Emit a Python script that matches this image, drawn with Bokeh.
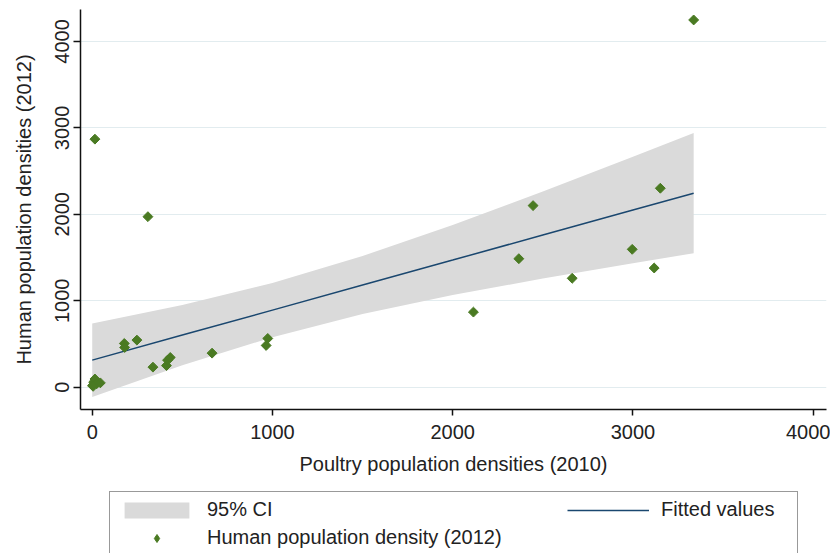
import numpy as np
from bokeh.plotting import figure
from bokeh.layouts import column
from bokeh.models import Range1d, Legend, LegendItem, FixedTicker, ColumnDataSource
from bokeh.embed import file_html
from bokeh.resources import INLINE

# --- data ---
poultry = [3337, 3152, 2446, 2367, 2996, 3118, 2663, 2115, 15, 309,
           178, 180, 248, 337, 412, 418, 433, 665, 965, 974,
           2, 8, 15, 25, 45, 5]
human = [4249, 2302, 2101, 1487, 1595, 1379, 1260, 869, 2870, 1973,
         506, 460, 545, 232, 250, 313, 344, 394, 483, 564,
         20, 60, 95, 40, 50, 10]

fit_x = [0, 500, 1000, 1500, 2000, 2500, 3000, 3337]
fit_y = [313, 603, 892, 1182, 1471, 1761, 2050, 2245]
ci_hi = [738, 951, 1206, 1518, 1876, 2264, 2665, 2940]
ci_lo = [-112, 255, 578, 846, 1066, 1258, 1435, 1550]

x_ticks = [0, 1000, 2000, 3000, 4000]
y_ticks = [0, 1000, 2000, 3000, 4000]

pts_src = ColumnDataSource(dict(x=poultry, y=human))
fit_src = ColumnDataSource(dict(x=fit_x, y=fit_y, lo=ci_lo, hi=ci_hi))

FONT = "Liberation Sans"
TXT = "#222222"
CI_COLOR = "#dadada"
LINE_COLOR = "#1a476f"
PT_COLOR = "#4a7a22"


def add_marks(fig, legend_style=False):
    b = fig.varea(x="x", y1="lo", y2="hi", source=fit_src, fill_color=CI_COLOR)
    l = fig.line(x="x", y="y", source=fit_src, line_color=LINE_COLOR, line_width=1.5)
    if legend_style:
        s = fig.scatter(x="x", y="y", source=pts_src, marker="diamond", size=10,
                        fill_color=PT_COLOR, line_color=PT_COLOR)
    else:
        s = fig.scatter(x="x", y="y", source=pts_src, marker="square", angle=np.pi / 4,
                        size=7, fill_color=PT_COLOR, line_color=PT_COLOR)
    return b, l, s


p = figure(width=830, height=481, output_backend="svg", toolbar_location=None,
           x_range=Range1d(-65, 4074), y_range=Range1d(-258, 4370),
           min_border_left=80, min_border_right=4, min_border_top=9,
           min_border_bottom=72)
p.background_fill_color = "white"
p.border_fill_color = "white"
p.outline_line_color = None
p.xgrid.visible = False
p.ygrid.grid_line_color = "#e2ecef"
p.ygrid.grid_line_width = 1

add_marks(p)

for ax, tk in ((p.xaxis[0], x_ticks), (p.yaxis[0], y_ticks)):
    ax.ticker = FixedTicker(ticks=tk)
    ax.axis_line_color = "#111111"
    ax.axis_line_width = 1.5
    ax.major_tick_line_color = "#111111"
    ax.major_tick_line_width = 1.5
    ax.major_tick_in = 0
    ax.minor_tick_line_color = None
    ax.major_label_text_font = FONT
    ax.major_label_text_font_size = "20px"
    ax.major_label_text_color = TXT
    ax.axis_label_text_font = FONT
    ax.axis_label_text_font_size = "20px"
    ax.axis_label_text_font_style = "normal"
    ax.axis_label_text_color = TXT

p.xaxis.axis_label = "Poultry population densities (2010)"
p.yaxis.axis_label = "Human population densities (2012)"
p.xaxis.major_tick_out = 6
p.yaxis.major_tick_out = 7
p.yaxis.major_label_orientation = "vertical"
p.xaxis.major_label_standoff = 9
p.yaxis.major_label_standoff = 4
p.xaxis.axis_label_standoff = 11
p.yaxis.axis_label_standoff = 18

# --- legend strip below the plot (its view range excludes the data) ---
lg = figure(width=830, height=72, output_backend="svg", toolbar_location=None,
            x_axis_type=None, y_axis_type=None,
            x_range=Range1d(-20, -10), y_range=Range1d(-20000, -10000),
            min_border_left=0, min_border_right=0, min_border_top=0,
            min_border_bottom=0)
lg.outline_line_color = None
lg.background_fill_color = "white"
lg.border_fill_color = "white"
lg.xgrid.visible = False
lg.ygrid.visible = False

k_band, k_line, k_pts = add_marks(lg, legend_style=True)

leg1 = Legend(items=[LegendItem(label="95% CI", renderers=[k_band]),
                     LegendItem(label="Human population density (2012)", renderers=[k_pts])],
              location=(29, -3), orientation="vertical",
              glyph_width=81, glyph_height=20, label_height=20, label_width=584,
              label_standoff=10, spacing=5, padding=6, margin=0,
              border_line_color="#333333", border_line_width=1,
              background_fill_color="white", background_fill_alpha=1,
              label_text_font=FONT, label_text_font_size="20px", label_text_color=TXT)
leg2 = Legend(items=[LegendItem(label="Fitted values", renderers=[k_line])],
              location=(487, 32), glyph_width=82, glyph_height=20, label_height=20,
              label_standoff=12, padding=0, margin=0,
              border_line_color=None, background_fill_alpha=0,
              label_text_font=FONT, label_text_font_size="20px", label_text_color=TXT)
lg.add_layout(leg1, "center")
lg.add_layout(leg2, "center")

layout = column(p, lg, spacing=0)
open("out.html", "w").write(file_html(layout, INLINE))
